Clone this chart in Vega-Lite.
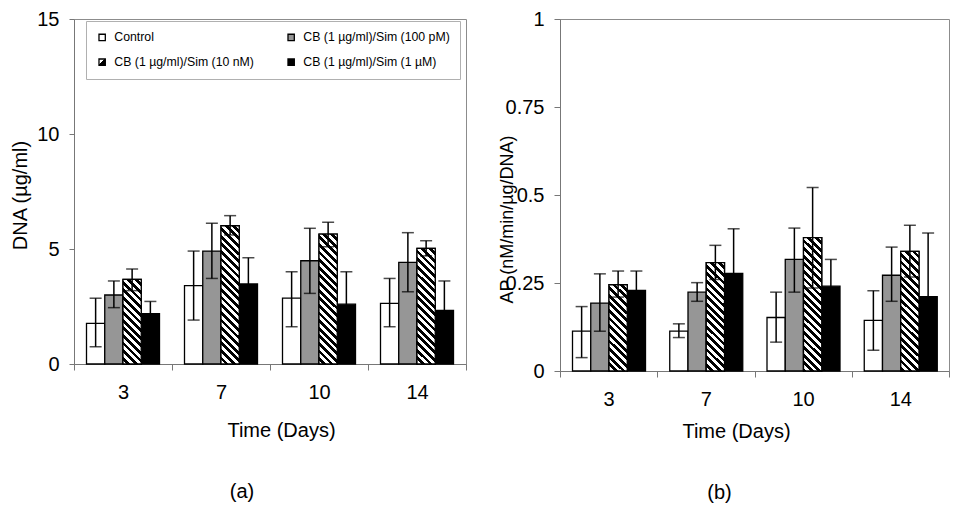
{
  "$schema": "https://vega.github.io/schema/vega-lite/v6.json",
  "background": "white",
  "padding": {"left": 9, "top": 8, "right": 0, "bottom": 0},
  "bounds": "flush",
  "spacing": 94,
  "params": [
    {"name": "hs", "value": [
      {"offset": 0, "color": "#fff"}, {"offset": 0.02381, "color": "#fff"}, {"offset": 0.02381, "color": "#000"}, {"offset": 0.04762, "color": "#000"},
      {"offset": 0.04762, "color": "#fff"}, {"offset": 0.07143, "color": "#fff"}, {"offset": 0.07143, "color": "#000"}, {"offset": 0.09524, "color": "#000"},
      {"offset": 0.09524, "color": "#fff"}, {"offset": 0.11905, "color": "#fff"}, {"offset": 0.11905, "color": "#000"}, {"offset": 0.14286, "color": "#000"},
      {"offset": 0.14286, "color": "#fff"}, {"offset": 0.16667, "color": "#fff"}, {"offset": 0.16667, "color": "#000"}, {"offset": 0.19048, "color": "#000"},
      {"offset": 0.19048, "color": "#fff"}, {"offset": 0.21429, "color": "#fff"}, {"offset": 0.21429, "color": "#000"}, {"offset": 0.2381, "color": "#000"},
      {"offset": 0.2381, "color": "#fff"}, {"offset": 0.2619, "color": "#fff"}, {"offset": 0.2619, "color": "#000"}, {"offset": 0.28571, "color": "#000"},
      {"offset": 0.28571, "color": "#fff"}, {"offset": 0.30952, "color": "#fff"}, {"offset": 0.30952, "color": "#000"}, {"offset": 0.33333, "color": "#000"},
      {"offset": 0.33333, "color": "#fff"}, {"offset": 0.35714, "color": "#fff"}, {"offset": 0.35714, "color": "#000"}, {"offset": 0.38095, "color": "#000"},
      {"offset": 0.38095, "color": "#fff"}, {"offset": 0.40476, "color": "#fff"}, {"offset": 0.40476, "color": "#000"}, {"offset": 0.42857, "color": "#000"},
      {"offset": 0.42857, "color": "#fff"}, {"offset": 0.45238, "color": "#fff"}, {"offset": 0.45238, "color": "#000"}, {"offset": 0.47619, "color": "#000"},
      {"offset": 0.47619, "color": "#fff"}, {"offset": 0.5, "color": "#fff"}, {"offset": 0.5, "color": "#000"}, {"offset": 0.52381, "color": "#000"},
      {"offset": 0.52381, "color": "#fff"}, {"offset": 0.54762, "color": "#fff"}, {"offset": 0.54762, "color": "#000"}, {"offset": 0.57143, "color": "#000"},
      {"offset": 0.57143, "color": "#fff"}, {"offset": 0.59524, "color": "#fff"}, {"offset": 0.59524, "color": "#000"}, {"offset": 0.61905, "color": "#000"},
      {"offset": 0.61905, "color": "#fff"}, {"offset": 0.64286, "color": "#fff"}, {"offset": 0.64286, "color": "#000"}, {"offset": 0.66667, "color": "#000"},
      {"offset": 0.66667, "color": "#fff"}, {"offset": 0.69048, "color": "#fff"}, {"offset": 0.69048, "color": "#000"}, {"offset": 0.71429, "color": "#000"},
      {"offset": 0.71429, "color": "#fff"}, {"offset": 0.7381, "color": "#fff"}, {"offset": 0.7381, "color": "#000"}, {"offset": 0.7619, "color": "#000"},
      {"offset": 0.7619, "color": "#fff"}, {"offset": 0.78571, "color": "#fff"}, {"offset": 0.78571, "color": "#000"}, {"offset": 0.80952, "color": "#000"},
      {"offset": 0.80952, "color": "#fff"}, {"offset": 0.83333, "color": "#fff"}, {"offset": 0.83333, "color": "#000"}, {"offset": 0.85714, "color": "#000"},
      {"offset": 0.85714, "color": "#fff"}, {"offset": 0.88095, "color": "#fff"}, {"offset": 0.88095, "color": "#000"}, {"offset": 0.90476, "color": "#000"},
      {"offset": 0.90476, "color": "#fff"}, {"offset": 0.92857, "color": "#fff"}, {"offset": 0.92857, "color": "#000"}, {"offset": 0.95238, "color": "#000"},
      {"offset": 0.95238, "color": "#fff"}, {"offset": 0.97619, "color": "#fff"}, {"offset": 0.97619, "color": "#000"}, {"offset": 1, "color": "#000"}
    ]}
  ],
  "config": {
    "font": "Liberation Sans",
    "view": {"stroke": "#8c8c8c", "strokeWidth": 1},
    "axis": {
      "labelFont": "Liberation Sans", "titleFont": "Liberation Sans",
      "labelFontSize": 20, "titleFontSize": 20, "titleFontWeight": "normal",
      "labelColor": "#000", "titleColor": "#000",
      "domainColor": "#777", "tickColor": "#777", "domainWidth": 1, "tickWidth": 1,
      "grid": false
    },
    "legend": {
      "labelFont": "Liberation Sans", "labelFontSize": 12.3, "labelColor": "#000",
      "symbolType": "square", "symbolSize": 40, "symbolStrokeColor": "#000", "symbolStrokeWidth": 1.3,
      "strokeColor": "#b0b0b0", "fillColor": "#fff", "padding": 10,
      "rowPadding": 12, "columnPadding": 31, "labelOffset": 6, "labelLimit": 0
    },
    "title": {"font": "Liberation Sans", "fontSize": 20, "fontWeight": "normal", "color": "#000"}
  },
  "datasets": {
    "dna": [
      {"day": 3, "series": "Control", "mean": 1.77, "lo": 0.75, "hi": 2.86},
      {"day": 3, "series": "CB (1 µg/ml)/Sim (100 pM)", "mean": 3.0, "lo": 2.45, "hi": 3.61},
      {"day": 3, "series": "CB (1 µg/ml)/Sim (10 nM)", "mean": 3.68, "lo": 3.19, "hi": 4.13},
      {"day": 3, "series": "CB (1 µg/ml)/Sim (1 µM)", "mean": 2.19, "lo": 1.66, "hi": 2.72},
      {"day": 7, "series": "Control", "mean": 3.41, "lo": 1.91, "hi": 4.91},
      {"day": 7, "series": "CB (1 µg/ml)/Sim (100 pM)", "mean": 4.91, "lo": 3.72, "hi": 6.12},
      {"day": 7, "series": "CB (1 µg/ml)/Sim (10 nM)", "mean": 6.01, "lo": 5.61, "hi": 6.45},
      {"day": 7, "series": "CB (1 µg/ml)/Sim (1 µM)", "mean": 3.48, "lo": 2.34, "hi": 4.62},
      {"day": 10, "series": "Control", "mean": 2.86, "lo": 1.62, "hi": 4.01},
      {"day": 10, "series": "CB (1 µg/ml)/Sim (100 pM)", "mean": 4.49, "lo": 3.07, "hi": 5.9},
      {"day": 10, "series": "CB (1 µg/ml)/Sim (10 nM)", "mean": 5.65, "lo": 5.1, "hi": 6.16},
      {"day": 10, "series": "CB (1 µg/ml)/Sim (1 µM)", "mean": 2.6, "lo": 1.19, "hi": 4.01},
      {"day": 14, "series": "Control", "mean": 2.64, "lo": 1.62, "hi": 3.72},
      {"day": 14, "series": "CB (1 µg/ml)/Sim (100 pM)", "mean": 4.42, "lo": 3.14, "hi": 5.71},
      {"day": 14, "series": "CB (1 µg/ml)/Sim (10 nM)", "mean": 5.03, "lo": 4.7, "hi": 5.36},
      {"day": 14, "series": "CB (1 µg/ml)/Sim (1 µM)", "mean": 2.33, "lo": 1.05, "hi": 3.61}
    ],
    "ap": [
      {"day": 3, "series": "Control", "mean": 0.113, "lo": 0.038, "hi": 0.183},
      {"day": 3, "series": "CB (1 µg/ml)/Sim (100 pM)", "mean": 0.193, "lo": 0.113, "hi": 0.276},
      {"day": 3, "series": "CB (1 µg/ml)/Sim (10 nM)", "mean": 0.245, "lo": 0.21, "hi": 0.284},
      {"day": 3, "series": "CB (1 µg/ml)/Sim (1 µM)", "mean": 0.229, "lo": 0.174, "hi": 0.284},
      {"day": 7, "series": "Control", "mean": 0.113, "lo": 0.095, "hi": 0.134},
      {"day": 7, "series": "CB (1 µg/ml)/Sim (100 pM)", "mean": 0.224, "lo": 0.198, "hi": 0.251},
      {"day": 7, "series": "CB (1 µg/ml)/Sim (10 nM)", "mean": 0.308, "lo": 0.26, "hi": 0.357},
      {"day": 7, "series": "CB (1 µg/ml)/Sim (1 µM)", "mean": 0.277, "lo": 0.15, "hi": 0.404},
      {"day": 10, "series": "Control", "mean": 0.152, "lo": 0.082, "hi": 0.224},
      {"day": 10, "series": "CB (1 µg/ml)/Sim (100 pM)", "mean": 0.317, "lo": 0.224, "hi": 0.406},
      {"day": 10, "series": "CB (1 µg/ml)/Sim (10 nM)", "mean": 0.379, "lo": 0.236, "hi": 0.521},
      {"day": 10, "series": "CB (1 µg/ml)/Sim (1 µM)", "mean": 0.241, "lo": 0.165, "hi": 0.317},
      {"day": 14, "series": "Control", "mean": 0.144, "lo": 0.059, "hi": 0.228},
      {"day": 14, "series": "CB (1 µg/ml)/Sim (100 pM)", "mean": 0.272, "lo": 0.198, "hi": 0.352},
      {"day": 14, "series": "CB (1 µg/ml)/Sim (10 nM)", "mean": 0.34, "lo": 0.267, "hi": 0.414},
      {"day": 14, "series": "CB (1 µg/ml)/Sim (1 µM)", "mean": 0.211, "lo": 0.03, "hi": 0.392}
    ]
  },
  "hconcat": [
    {
      "width": 392, "height": 345,
      "data": {"name": "dna"},
      "title": {"text": "(a)", "orient": "bottom", "anchor": "middle", "dx": -28, "offset": 42},
      "encoding": {
        "x": {"field": "day", "type": "ordinal",
          "scale": {"paddingInner": 0, "paddingOuter": 0},
          "axis": {"title": "Time (Days)", "labelAngle": 0, "tickBand": "extent", "tickSize": 6, "labelPadding": 12, "titleX": 207, "titleY": 66, "titleBaseline": "middle", "titleAlign": "center"}},
        "xOffset": {"field": "series", "type": "nominal",
          "sort": ["Control", "CB (1 µg/ml)/Sim (100 pM)", "CB (1 µg/ml)/Sim (10 nM)", "CB (1 µg/ml)/Sim (1 µM)"],
          "scale": {"paddingInner": 0, "paddingOuter": 0.685}}
      },
      "layer": [
        {
          "mark": {"type": "bar", "stroke": "#000", "strokeWidth": 1.3},
          "encoding": {
            "y": {"field": "mean", "type": "quantitative", "stack": null,
              "scale": {"domain": [0, 15], "nice": false},
              "axis": {"title": "DNA (µg/ml)", "values": [0, 5, 10, 15], "tickSize": 5, "labelPadding": 10, "titleX": -54, "titleY": 176, "titleBaseline": "middle", "titleAngle": -90}},
            "fill": {"field": "series", "type": "nominal",
              "scale": {"domain": ["Control", "CB (1 µg/ml)/Sim (10 nM)", "CB (1 µg/ml)/Sim (100 pM)", "CB (1 µg/ml)/Sim (1 µM)"],
                "range": ["#ffffff", {"expr": "{gradient: 'linear', x1: 0, y1: 0, x2: 1, y2: 1, stops: [{offset: 0, color: '#fff'}, {offset: 0.45, color: '#fff'}, {offset: 0.45, color: '#000'}, {offset: 1, color: '#000'}]}"}, "#969696", "#000000"]},
              "legend": {"orient": "none", "legendX": 12, "legendY": 2, "columns": 2, "title": null}}
          }
        },
        {
          "transform": [{"filter": "datum.series === 'CB (1 µg/ml)/Sim (10 nM)'"}],
          "mark": {"type": "bar", "stroke": "#000", "strokeWidth": 1.3,
            "fill": {"expr": "{gradient: 'linear', x1: 1, y1: 0, x2: 1 - 160*18.2/(18.2*18.2 + pow(datum.mean*23, 2)), y2: 160*datum.mean*23/(18.2*18.2 + pow(datum.mean*23, 2)), stops: hs}"}},
          "encoding": {
            "y": {"field": "mean", "type": "quantitative", "stack": null, "title": "DNA (µg/ml)"}
          }
        },
        {
          "mark": {"type": "rule", "color": "#000", "strokeWidth": 1.5},
          "encoding": {
            "y": {"field": "lo", "type": "quantitative", "title": "DNA (µg/ml)"},
            "y2": {"field": "hi"}
          }
        },
        {
          "mark": {"type": "tick", "orient": "horizontal", "color": "#000", "size": 12, "thickness": 1.5},
          "encoding": {"y": {"field": "hi", "type": "quantitative", "title": "DNA (µg/ml)"}}
        },
        {
          "mark": {"type": "tick", "orient": "horizontal", "color": "#000", "size": 12, "thickness": 1.5},
          "encoding": {"y": {"field": "lo", "type": "quantitative", "title": "DNA (µg/ml)"}}
        }
      ]
    },
    {
      "width": 389, "height": 352,
      "data": {"name": "ap"},
      "title": {"text": "(b)", "orient": "bottom", "anchor": "middle", "dx": -35, "offset": 42},
      "encoding": {
        "x": {"field": "day", "type": "ordinal",
          "scale": {"paddingInner": 0, "paddingOuter": 0},
          "axis": {"title": "Time (Days)", "labelAngle": 0, "tickBand": "extent", "tickSize": 6, "labelPadding": 12, "titleX": 176, "titleY": 60, "titleBaseline": "middle", "titleAlign": "center"}},
        "xOffset": {"field": "series", "type": "nominal",
          "sort": ["Control", "CB (1 µg/ml)/Sim (100 pM)", "CB (1 µg/ml)/Sim (10 nM)", "CB (1 µg/ml)/Sim (1 µM)"],
          "scale": {"paddingInner": 0, "paddingOuter": 0.685}}
      },
      "layer": [
        {
          "mark": {"type": "bar", "stroke": "#000", "strokeWidth": 1.3},
          "encoding": {
            "y": {"field": "mean", "type": "quantitative", "stack": null,
              "scale": {"domain": [0, 1], "nice": false},
              "axis": {"title": "AP (nM/min/µg/DNA)", "values": [0, 0.25, 0.5, 0.75, 1], "labelExpr": "'' + datum.value", "tickSize": 6, "labelPadding": 10, "titleX": -53, "titleY": 200, "titleBaseline": "middle", "titleAngle": -90, "titleFontSize": 18}},
            "fill": {"field": "series", "type": "nominal",
              "scale": {"domain": ["Control", "CB (1 µg/ml)/Sim (10 nM)", "CB (1 µg/ml)/Sim (100 pM)", "CB (1 µg/ml)/Sim (1 µM)"],
                "range": ["#ffffff", {"expr": "{gradient: 'linear', x1: 0, y1: 0, x2: 1, y2: 1, stops: [{offset: 0, color: '#fff'}, {offset: 0.45, color: '#fff'}, {offset: 0.45, color: '#000'}, {offset: 1, color: '#000'}]}"}, "#969696", "#000000"]},
              "legend": {"orient": "none", "legendX": 14, "legendY": 5, "columns": 2, "title": null}}
          }
        },
        {
          "transform": [{"filter": "datum.series === 'CB (1 µg/ml)/Sim (10 nM)'"}],
          "mark": {"type": "bar", "stroke": "#000", "strokeWidth": 1.3,
            "fill": {"expr": "{gradient: 'linear', x1: 1, y1: 0, x2: 1 - 160*18.1/(18.1*18.1 + pow(datum.mean*352, 2)), y2: 160*datum.mean*352/(18.1*18.1 + pow(datum.mean*352, 2)), stops: hs}"}},
          "encoding": {
            "y": {"field": "mean", "type": "quantitative", "stack": null, "title": "AP (nM/min/µg/DNA)"}
          }
        },
        {
          "mark": {"type": "rule", "color": "#000", "strokeWidth": 1.5},
          "encoding": {
            "y": {"field": "lo", "type": "quantitative", "title": "AP (nM/min/µg/DNA)"},
            "y2": {"field": "hi"}
          }
        },
        {
          "mark": {"type": "tick", "orient": "horizontal", "color": "#000", "size": 12, "thickness": 1.5},
          "encoding": {"y": {"field": "hi", "type": "quantitative", "title": "AP (nM/min/µg/DNA)"}}
        },
        {
          "mark": {"type": "tick", "orient": "horizontal", "color": "#000", "size": 12, "thickness": 1.5},
          "encoding": {"y": {"field": "lo", "type": "quantitative", "title": "AP (nM/min/µg/DNA)"}}
        }
      ]
    }
  ]
}
